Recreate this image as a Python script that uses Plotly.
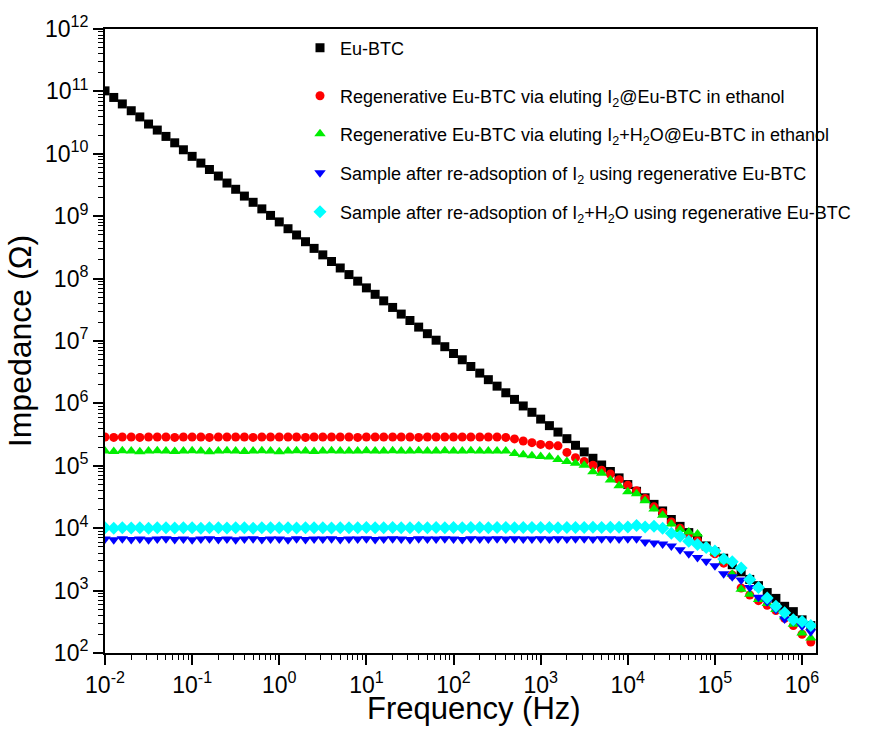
import plotly.graph_objects as go

# Measurement frequencies (Hz), 10 points per decade
freq_hz = [
    0.01, 0.0126, 0.0158, 0.02, 0.0251, 0.0316, 0.0398, 0.0501, 0.0631, 0.0794,
    0.1, 0.126, 0.158, 0.2, 0.251, 0.316, 0.398, 0.501, 0.631, 0.794,
    1, 1.26, 1.58, 2, 2.51, 3.16, 3.98, 5.01, 6.31, 7.94,
    10, 12.6, 15.8, 20, 25.1, 31.6, 39.8, 50.1, 63.1, 79.4,
    100, 126, 158, 200, 251, 316, 398, 501, 631, 794,
    1000, 1260, 1580, 2000, 2510, 3160, 3980, 5010, 6310, 7940,
    1e4, 1.26e4, 1.58e4, 2e4, 2.51e4, 3.16e4, 3.98e4, 5.01e4, 6.31e4, 7.94e4,
    1e5, 1.26e5, 1.58e5, 2e5, 2.51e5, 3.16e5, 3.98e5, 5.01e5, 6.31e5, 7.94e5,
    1e6, 1.26e6,
]

# Impedance (Ohm) of each sample
z_eu_btc = [
    1.02e11, 8.0e10, 6.3e10, 4.9e10, 3.9e10, 3.0e10, 2.4e10, 1.9e10, 1.5e10, 1.16e10,
    9.1e9, 7.1e9, 5.6e9, 4.4e9, 3.4e9, 2.7e9, 2.1e9, 1.67e9, 1.31e9, 1.03e9,
    8.1e8, 6.3e8, 5.0e8, 3.9e8, 3.05e8, 2.4e8, 1.88e8, 1.48e8, 1.16e8, 9.1e7,
    7.1e7, 5.6e7, 4.4e7, 3.45e7, 2.7e7, 2.13e7, 1.67e7, 1.31e7, 1.03e7, 8.1e6,
    6.3e6, 5.0e6, 3.9e6, 3.06e6, 2.4e6, 1.89e6, 1.48e6, 1.16e6, 9.1e5, 7.2e5,
    5.6e5, 4.4e5, 3.47e5, 2.72e5, 2.13e5, 1.67e5, 1.32e5, 1.03e5, 8.1e4, 6.4e4,
    5.0e4, 3.9e4, 3.07e4, 2.41e4, 1.89e4, 1.38e4, 1.07e4, 8.5e3, 6.8e3, 5.2e3,
    4.2e3, 3.3e3, 2.6e3, 2.0e3, 1.51e3, 1.20e3, 9.3e2, 7.5e2, 5.6e2, 4.6e2,
    3.4e2, 2.75e2,
]

z_regen_i2 = [
    2.9e5, 2.85e5, 2.9e5, 2.9e5, 2.85e5, 2.9e5, 2.9e5, 2.9e5, 2.85e5, 2.9e5,
    2.9e5, 2.9e5, 2.85e5, 2.9e5, 2.9e5, 2.9e5, 2.9e5, 2.85e5, 2.9e5, 2.9e5,
    2.9e5, 2.9e5, 2.9e5, 2.85e5, 2.9e5, 2.9e5, 2.9e5, 2.9e5, 2.9e5, 2.85e5,
    2.9e5, 2.9e5, 2.9e5, 2.9e5, 2.9e5, 2.9e5, 2.85e5, 2.9e5, 2.9e5, 2.9e5,
    2.9e5, 2.9e5, 2.9e5, 2.9e5, 2.9e5, 2.9e5, 2.85e5, 2.7e5, 2.5e5, 2.35e5,
    2.2e5, 2.14e5, 2.09e5, 1.64e5, 1.35e5, 1.17e5, 1.02e5, 8.5e4, 7.4e4, 6.0e4,
    4.9e4, 4.0e4, 3.0e4, 2.2e4, 1.78e4, 1.26e4, 1.0e4, 7.9e3, 6.3e3, 5.0e3,
    3.9e3, 2.75e3, 1.78e3, 1.10e3, 8.5e2, 6.9e2, 5.8e2, 4.8e2, 3.6e2, 2.75e2,
    2.0e2, 1.5e2,
]

z_regen_i2_h2o = [
    1.73e5, 1.7e5, 1.75e5, 1.73e5, 1.68e5, 1.73e5, 1.75e5, 1.73e5, 1.7e5, 1.73e5,
    1.75e5, 1.73e5, 1.68e5, 1.73e5, 1.75e5, 1.73e5, 1.7e5, 1.73e5, 1.75e5, 1.73e5,
    1.68e5, 1.73e5, 1.75e5, 1.73e5, 1.7e5, 1.73e5, 1.75e5, 1.73e5, 1.73e5, 1.73e5,
    1.75e5, 1.73e5, 1.73e5, 1.75e5, 1.73e5, 1.73e5, 1.75e5, 1.73e5, 1.73e5, 1.75e5,
    1.73e5, 1.73e5, 1.75e5, 1.73e5, 1.73e5, 1.73e5, 1.72e5, 1.58e5, 1.51e5, 1.45e5,
    1.41e5, 1.38e5, 1.26e5, 1.17e5, 1.10e5, 1.02e5, 8.0e4, 7.6e4, 5.9e4, 4.8e4,
    3.85e4, 3.55e4, 2.75e4, 2.04e4, 1.62e4, 1.17e4, 9.5e3, 8.7e3, 8.1e3, 5.2e3,
    4.1e3, 2.95e3, 1.82e3, 1.05e3, 8.7e2, 7.2e2, 6.2e2, 5.0e2, 3.8e2, 2.9e2,
    2.1e2, 1.74e2,
]

z_readsorb_i2 = [
    6.7e3, 6.5e3, 6.8e3, 6.6e3, 6.7e3, 6.5e3, 6.7e3, 6.8e3, 6.6e3, 6.7e3,
    6.5e3, 6.7e3, 6.8e3, 6.6e3, 6.7e3, 6.5e3, 6.7e3, 6.8e3, 6.6e3, 6.7e3,
    6.7e3, 6.5e3, 6.8e3, 6.6e3, 6.7e3, 6.7e3, 6.8e3, 6.6e3, 6.7e3, 6.7e3,
    6.8e3, 6.6e3, 6.7e3, 6.8e3, 6.7e3, 6.6e3, 6.8e3, 6.7e3, 6.7e3, 6.8e3,
    6.7e3, 6.6e3, 6.8e3, 6.7e3, 6.7e3, 6.8e3, 6.7e3, 6.8e3, 6.7e3, 6.7e3,
    6.8e3, 6.7e3, 6.8e3, 6.7e3, 6.8e3, 6.8e3, 6.7e3, 6.8e3, 6.8e3, 6.7e3,
    6.8e3, 6.8e3, 6.0e3, 5.8e3, 5.6e3, 5.2e3, 4.5e3, 3.9e3, 3.4e3, 2.95e3,
    2.5e3, 1.86e3, 1.66e3, 1.48e3, 1.12e3, 7.8e2, 6.6e2, 5.0e2, 3.5e2, 3.2e2,
    2.7e2, 2.2e2,
]

z_readsorb_i2_h2o = [
    1.02e4, 1.0e4, 1.02e4, 1.01e4, 1.02e4, 1.0e4, 1.02e4, 1.02e4, 1.01e4, 1.02e4,
    1.02e4, 1.0e4, 1.02e4, 1.02e4, 1.01e4, 1.02e4, 1.02e4, 1.0e4, 1.02e4, 1.02e4,
    1.02e4, 1.02e4, 1.01e4, 1.02e4, 1.02e4, 1.02e4, 1.01e4, 1.02e4, 1.02e4, 1.02e4,
    1.03e4, 1.02e4, 1.02e4, 1.03e4, 1.02e4, 1.02e4, 1.03e4, 1.02e4, 1.03e4, 1.02e4,
    1.03e4, 1.02e4, 1.03e4, 1.03e4, 1.02e4, 1.03e4, 1.03e4, 1.02e4, 1.03e4, 1.03e4,
    1.03e4, 1.03e4, 1.02e4, 1.03e4, 1.03e4, 1.03e4, 1.04e4, 1.03e4, 1.04e4, 1.04e4,
    1.05e4, 1.1e4, 1.05e4, 1.07e4, 1.0e4, 8.3e3, 7.4e3, 6.2e3, 5.5e3, 4.9e3,
    4.3e3, 3.2e3, 2.9e3, 2.3e3, 1.51e3, 1.12e3, 7.6e2, 5.6e2, 4.4e2, 3.4e2,
    3.2e2, 2.75e2,
]

series_names = [
    "Eu-BTC",
    "Regenerative Eu-BTC via eluting I<sub>2</sub>@Eu-BTC in ethanol",
    "Regenerative Eu-BTC via eluting I<sub>2</sub>+H<sub>2</sub>O@Eu-BTC in ethanol",
    "Sample after re-adsoption of I<sub>2</sub> using regenerative Eu-BTC",
    "Sample after re-adsoption of I<sub>2</sub>+H<sub>2</sub>O using regenerative Eu-BTC",
]
series_values = [z_eu_btc, z_regen_i2, z_regen_i2_h2o, z_readsorb_i2, z_readsorb_i2_h2o]
series_colors = ["#000000", "#FF0000", "#00EE00", "#0000FF", "#00FFFF"]
series_symbols = ["square", "circle", "triangle-up", "triangle-down", "diamond"]
series_sizes = [9, 9, 10, 10, 10]

# One legend per entry so each line can be placed on its own row
legend_ids = ["legend", "legend2", "legend3", "legend4", "legend5"]
legend_rows_px = [48, 96, 134, 173, 212]

W, H = 877, 729
M_L, M_R, M_T, M_B = 105, 61, 29, 76
plot_h = H - M_T - M_B
plot_w = W - M_L - M_R

fig = go.Figure()
for name, vals, col, sym, sz, lg in zip(series_names, series_values, series_colors,
                                         series_symbols, series_sizes, legend_ids):
    fig.add_trace(go.Scatter(
        x=freq_hz, y=vals, mode="markers", name=name, legend=lg,
        marker=dict(symbol=sym, size=sz, color=col, line=dict(width=0)),
    ))

font_family = "Liberation Sans, Arial, sans-serif"

x_major = [10.0 ** k for k in range(-2, 7)]
x_text = ["10<sup>%d</sup>" % k for k in range(-2, 7)]
x_minor = [m * 10.0 ** k for k in range(-2, 6) for m in range(2, 10)]
y_major = [10.0 ** k for k in range(2, 13)]
y_text = ["10<sup>%d</sup>" % k for k in range(2, 13)]
y_minor = [m * 10.0 ** k for k in range(2, 12) for m in range(2, 10)]

axis_common = dict(
    type="log", showline=True, linewidth=2, linecolor="black", mirror=True,
    ticks="outside", ticklen=10, tickwidth=1.5, tickcolor="black",
    showgrid=False, zeroline=False, tickmode="array", automargin=False,
    tickfont=dict(family=font_family, size=23, color="black"),
)

fig.update_xaxes(
    **axis_common, range=[-2, 6.16], tickvals=x_major, ticktext=x_text,
    minor=dict(ticks="outside", ticklen=5, tickwidth=1, tickcolor="black",
               tickmode="array", tickvals=x_minor, showgrid=False),
)
fig.update_yaxes(
    **axis_common, range=[2, 12], tickvals=y_major, ticktext=y_text,
    minor=dict(ticks="outside", ticklen=5, tickwidth=1, tickcolor="black",
               tickmode="array", tickvals=y_minor, showgrid=False),
    title=dict(text="Impedance (Ω)", standoff=4,
               font=dict(family=font_family, size=32, color="black")),
)

# x-axis title sits along the bottom edge of the figure
fig.add_annotation(
    text="Frequency (Hz)", xref="paper", yref="paper",
    x=(474 - M_L) / plot_w, y=-(M_B - 1) / plot_h,
    xanchor="center", yanchor="bottom", showarrow=False,
    font=dict(family=font_family, size=31, color="black"),
)

layout_legends = {}
for lg, row in zip(legend_ids, legend_rows_px):
    layout_legends[lg] = dict(
        x=(300 - M_L) / plot_w, y=(H - M_B - row) / plot_h,
        xanchor="left", yanchor="middle",
        bgcolor="rgba(0,0,0,0)", borderwidth=0,
        font=dict(family=font_family, size=18, color="black"),
    )

fig.update_layout(
    width=W, height=H, autosize=False,
    margin=dict(l=M_L, r=M_R, t=M_T, b=M_B),
    paper_bgcolor="white", plot_bgcolor="white",
    showlegend=True,
    **layout_legends,
)

fig.write_html("out.html")
